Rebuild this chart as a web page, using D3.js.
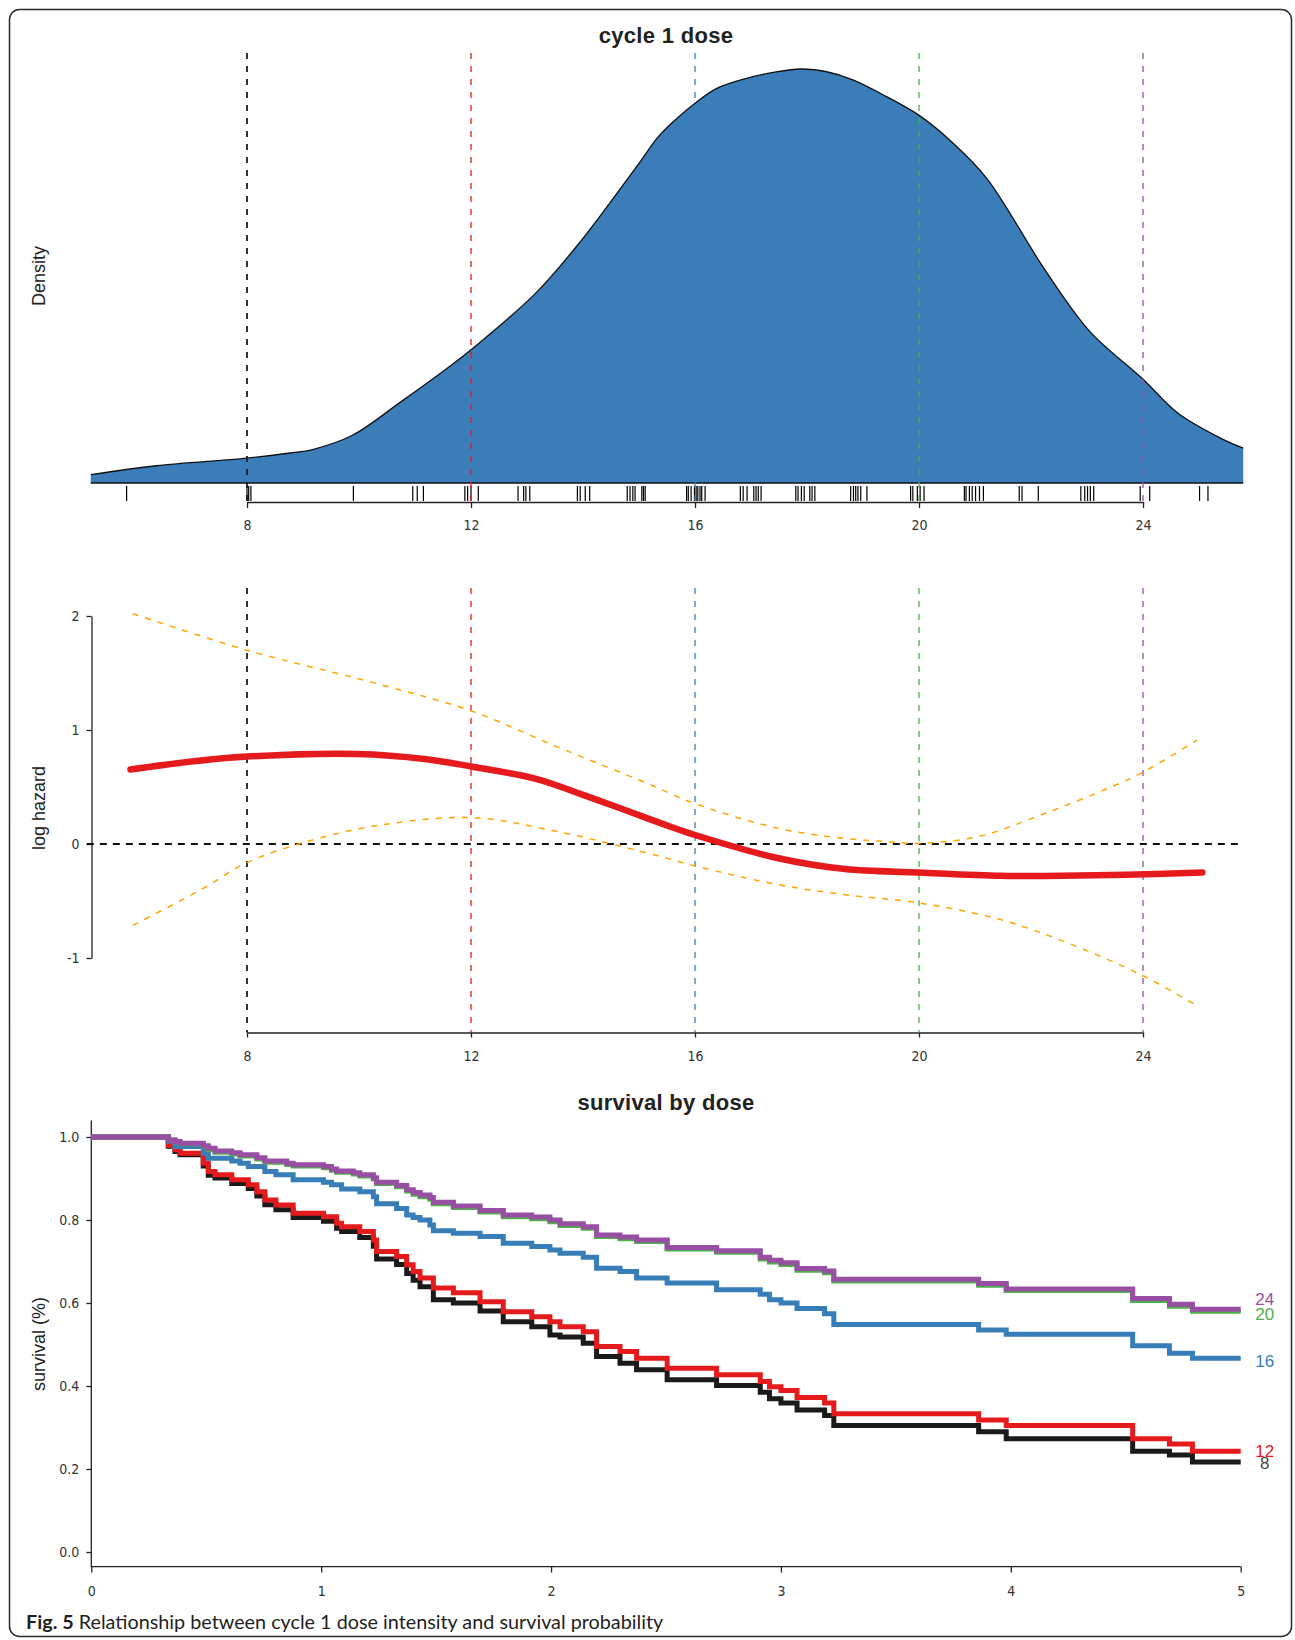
<!DOCTYPE html>
<html>
<head>
<meta charset="utf-8">
<script src="https://cdn.jsdelivr.net/npm/d3@7"></script>
<style>
  body { margin: 0; background: #fff; }
  .tick text { font-family: "Liberation Sans Narrow", "DejaVu Sans Condensed", sans-serif; font-size: 14px; fill: #333; }
  .tick line, .axis-line { stroke: #222; stroke-width: 1.3; }
  .ylab { font-family: "Liberation Sans", Arial, sans-serif; font-size: 18px; fill: #222; }
  .title { font-family: "Liberation Sans", Arial, sans-serif; font-size: 22px; font-weight: bold; fill: #222; letter-spacing: 0.3px; }
</style>
</head>
<body>
<svg id="fig" width="1295" height="1640"></svg>
<script>
const refDoses = [8, 12, 16, 20, 24];
const refColors = ["#1a1a1a", "#e41a1c", "#377eb8", "#4daf4a", "#984ea3"];
const doseTicks = [8, 12, 16, 20, 24];

const densityX = [5.21, 6.38, 8, 8.77, 9.17, 9.89, 10.77, 11.57, 12, 13.16, 13.96, 14.78, 15.02, 15.32,
  15.61, 16, 16.39, 16.92, 17.40, 17.89, 18.35, 18.83, 19.42, 19.99, 20.61, 21.21, 22.24, 23.04, 24,
  24.62, 25.41, 25.79];
const densityY = [0.0024, 0.0050, 0.0072, 0.0087, 0.0097, 0.0139, 0.0238, 0.0332, 0.0386, 0.0551, 0.0701,
  0.0878, 0.0931, 0.0999, 0.1047, 0.1101, 0.1144, 0.1173, 0.1190, 0.1200, 0.1192, 0.1168, 0.1120,
  0.1067, 0.0985, 0.0883, 0.0620, 0.0441, 0.0301, 0.0203, 0.0128, 0.0101];

const rugDose = [5.85, 8.0, 8.03, 8.07, 9.9, 10.96, 11.04, 11.15, 11.89, 11.94, 12.0, 12.13,
  12.84, 12.94, 12.98, 13.05, 13.9, 13.95, 14.04, 14.12, 14.79, 14.84, 14.89, 14.93, 15.05, 15.08, 15.11,
  15.85, 15.88, 15.93, 15.99, 16.02, 16.05, 16.09, 16.12, 16.18, 16.81, 16.86, 16.93, 17.05, 17.09, 17.13, 17.18,
  17.8, 17.84, 17.9, 17.95, 18.05, 18.09, 18.14, 18.78, 18.83, 18.87, 18.91, 18.96, 19.07,
  19.85, 19.89, 19.97, 20.02, 20.09, 20.81, 20.84, 20.9, 20.95, 21.01, 21.08, 21.15,
  21.79, 21.84, 22.13, 22.89, 22.96, 23.01, 23.06, 23.12, 23.95, 24.12, 25.01, 25.16];

const hazardX = [5.92, 6.94, 8, 9.97, 11.17, 12, 13.16, 13.95, 14.76, 15.46, 16, 17.49, 18.68,
  20, 21.45, 22.24, 23.68, 25.06];
const hazardY = [0.654, 0.72, 0.767, 0.79, 0.746, 0.68, 0.572, 0.44, 0.296, 0.17, 0.079, -0.125,
  -0.22, -0.25, -0.279, -0.28, -0.27, -0.25];
const upperX = [5.96, 8, 10.37, 12, 13.56, 15.16, 16, 17.49, 18.68, 19.45, 20, 21.05, 22.24, 23.43, 24, 24.96];
const upperY = [2.02, 1.70, 1.40, 1.168, 0.848, 0.529, 0.354, 0.137, 0.049, 0.02, 0.006, 0.064, 0.267,
  0.5, 0.63, 0.91];
const lowerX = [5.96, 7.18, 8, 9.17, 10.37, 12, 13.56, 15.16, 16, 17.49, 18.68, 20, 21.45, 22.64, 24, 24.96];
const lowerY = [-0.714, -0.40, -0.163, 0.035, 0.165, 0.232, 0.107, -0.081, -0.192, -0.357, -0.445,
  -0.517, -0.663, -0.865, -1.156, -1.418];

const survTime = [0, 0.335, 0.364, 0.386, 0.487, 0.509, 0.538, 0.611, 0.647, 0.683, 0.72, 0.755, 0.803,
  0.85, 0.878, 1.01, 1.045, 1.067, 1.089, 1.14, 1.168, 1.227, 1.241, 1.328, 1.372, 1.40, 1.43, 1.473,
  1.488, 1.575, 1.691, 1.792, 1.916, 1.995, 2.039, 2.14, 2.198, 2.30, 2.372, 2.505, 2.72, 2.91, 2.95,
  3.0, 3.07, 3.19, 3.23, 3.86, 3.98, 4.53, 4.69, 4.79, 5.0];
const surv8 = [1.0, 0.978, 0.965, 0.957, 0.930, 0.908, 0.901, 0.888, 0.888, 0.876, 0.858, 0.837, 0.825,
  0.825, 0.806, 0.797, 0.797, 0.780, 0.772, 0.772, 0.758, 0.737, 0.706, 0.693, 0.671, 0.655, 0.639,
  0.639, 0.608, 0.600, 0.581, 0.555, 0.543, 0.523, 0.518, 0.503, 0.471, 0.455, 0.439, 0.415, 0.401,
  0.385, 0.369, 0.359, 0.342, 0.329, 0.305, 0.290, 0.273, 0.243, 0.234, 0.217, 0.217];
const surv12 = [1.0, 0.980, 0.969, 0.961, 0.937, 0.917, 0.909, 0.897, 0.897, 0.885, 0.868, 0.848, 0.836,
  0.836, 0.816, 0.808, 0.808, 0.792, 0.784, 0.784, 0.772, 0.752, 0.724, 0.712, 0.692, 0.676, 0.660,
  0.660, 0.636, 0.625, 0.603, 0.579, 0.567, 0.555, 0.543, 0.531, 0.495, 0.483, 0.467, 0.443, 0.427,
  0.411, 0.398, 0.389, 0.372, 0.359, 0.333, 0.318, 0.305, 0.273, 0.260, 0.243, 0.243];
const surv16 = [1.0, 0.990, 0.977, 0.977, 0.961, 0.949, 0.949, 0.942, 0.937, 0.929, 0.929, 0.917, 0.909,
  0.909, 0.897, 0.891, 0.885, 0.885, 0.875, 0.875, 0.868, 0.856, 0.839, 0.828, 0.812, 0.806, 0.800,
  0.788, 0.774, 0.768, 0.760, 0.744, 0.736, 0.728, 0.720, 0.710, 0.684, 0.676, 0.660, 0.648, 0.632,
  0.621, 0.608, 0.600, 0.587, 0.574, 0.548, 0.535, 0.525, 0.497, 0.479, 0.467, 0.467];
const surv20 = [1.0, 0.993, 0.988, 0.984, 0.977, 0.970, 0.963, 0.959, 0.954, 0.954, 0.947, 0.939, 0.939,
  0.934, 0.930, 0.926, 0.920, 0.915, 0.915, 0.911, 0.906, 0.899, 0.888, 0.880, 0.870, 0.862, 0.856,
  0.850, 0.839, 0.830, 0.819, 0.808, 0.803, 0.796, 0.787, 0.780, 0.760, 0.755, 0.748, 0.730, 0.722,
  0.706, 0.699, 0.693, 0.679, 0.673, 0.653, 0.643, 0.630, 0.606, 0.592, 0.580, 0.580];
const surv24 = [1.0, 0.993, 0.989, 0.985, 0.979, 0.973, 0.966, 0.962, 0.957, 0.957, 0.950, 0.942, 0.942,
  0.937, 0.933, 0.929, 0.923, 0.918, 0.918, 0.914, 0.909, 0.902, 0.891, 0.883, 0.873, 0.866, 0.860,
  0.854, 0.843, 0.834, 0.823, 0.812, 0.807, 0.800, 0.791, 0.784, 0.764, 0.759, 0.752, 0.734, 0.726,
  0.710, 0.703, 0.697, 0.683, 0.677, 0.657, 0.647, 0.634, 0.611, 0.597, 0.585, 0.585];
const survSeries = [surv8, surv12, surv16, surv20, surv24];
const survTicksX = [0, 1, 2, 3, 4, 5];
const survTicksY = [0, 0.2, 0.4, 0.6, 0.8, 1.0];

const svg = d3.select("#fig");

// outer frame
svg.append("rect")
  .attr("x", 9.5).attr("y", 9.5)
  .attr("width", 1282).attr("height", 1627)
  .attr("rx", 10)
  .attr("fill", "none")
  .attr("stroke", "#2a2a2a")
  .attr("stroke-width", 1.5);

const x = d3.scaleLinear().domain([8, 24]).range([247, 1143]);
const xLo = 5.14, xHi = 25.74;

// ---- panel 1: density ----
const yDens = d3.scaleLinear().domain([0, 0.12]).range([483, 69]);
const dens = densityX.map((d, i) => [d, densityY[i]]);
const densCurve = d3.curveCatmullRom.alpha(0.5);

svg.append("path")
  .datum(dens)
  .attr("fill", "#3a7db8")
  .attr("d", d3.area().x(d => x(d[0])).y0(yDens(0)).y1(d => yDens(d[1])).curve(densCurve));
svg.append("path")
  .datum(dens)
  .attr("fill", "none")
  .attr("stroke", "#111")
  .attr("stroke-width", 1.3)
  .attr("d", d3.line().x(d => x(d[0])).y(d => yDens(d[1])).curve(densCurve));
svg.append("line")
  .attr("x1", x(densityX[0])).attr("x2", x(densityX[densityX.length - 1]))
  .attr("y1", yDens(0)).attr("y2", yDens(0))
  .attr("stroke", "#111").attr("stroke-width", 1.3);

svg.append("g").selectAll("line")
  .data(rugDose)
  .join("line")
    .attr("x1", d => x(d)).attr("x2", d => x(d))
    .attr("y1", 486).attr("y2", 501)
    .attr("stroke", "#000").attr("stroke-width", 1.2);

svg.append("g")
  .attr("transform", "translate(0,502)")
  .call(d3.axisBottom(x).tickValues(doseTicks).tickSize(6).tickSizeOuter(0).tickPadding(12))
  .call(g => g.select(".domain").attr("stroke", "#222").attr("stroke-width", 1.3));

const refLines = (y1, y2) => svg.append("g").selectAll("line")
  .data(refDoses)
  .join("line")
    .attr("x1", d => x(d)).attr("x2", d => x(d))
    .attr("y1", y1).attr("y2", y2)
    .attr("stroke", (d, i) => refColors[i])
    .attr("stroke-width", (d, i) => i === 0 ? 1.8 : 1.3)
    .attr("stroke-dasharray", "6,7");
refLines(53, 507);

svg.append("text").attr("class", "title")
  .attr("x", 666).attr("y", 43).attr("text-anchor", "middle")
  .text("cycle 1 dose");
svg.append("text").attr("class", "ylab")
  .attr("transform", "translate(39,276) rotate(-90)")
  .attr("text-anchor", "middle").attr("dominant-baseline", "central")
  .text("Density");

// ---- panel 2: log hazard ----
const yHaz = d3.scaleLinear().domain([-1, 2]).range([958, 616]);
const hazAxisY = 1032.5;

svg.append("g")
  .attr("transform", "translate(91.5,0)")
  .call(d3.axisLeft(yHaz).tickValues([-1, 0, 1, 2]).tickFormat(d => String(d)).tickSize(5).tickSizeOuter(0).tickPadding(7))
  .call(g => g.select(".domain").attr("stroke", "#222").attr("stroke-width", 1.3));
svg.append("g")
  .attr("transform", `translate(0,${hazAxisY})`)
  .call(d3.axisBottom(x).tickValues(doseTicks).tickSize(5).tickSizeOuter(0).tickPadding(14))
  .call(g => g.select(".domain").attr("stroke", "#222").attr("stroke-width", 1.3));

refLines(588, hazAxisY);

svg.append("line")
  .attr("x1", x(xLo)).attr("x2", x(xHi))
  .attr("y1", yHaz(0)).attr("y2", yHaz(0))
  .attr("stroke", "#111").attr("stroke-width", 1.8)
  .attr("stroke-dasharray", "7,6");

const hazLine = d3.line().x(d => x(d[0])).y(d => yHaz(d[1])).curve(d3.curveCatmullRom.alpha(0.5));
[[upperX, upperY], [lowerX, lowerY]].forEach(([xs, ys]) => {
  svg.append("path")
    .datum(xs.map((d, i) => [d, ys[i]]))
    .attr("fill", "none")
    .attr("stroke", "#ffa500")
    .attr("stroke-width", 1.5)
    .attr("stroke-dasharray", "6,7")
    .attr("d", hazLine);
});
svg.append("path")
  .datum(hazardX.map((d, i) => [d, hazardY[i]]))
  .attr("fill", "none")
  .attr("stroke", "#e41a1c")
  .attr("stroke-width", 6.5)
  .attr("stroke-linecap", "round")
  .attr("d", hazLine);

svg.append("text").attr("class", "ylab")
  .attr("transform", "translate(39,808) rotate(-90)")
  .attr("text-anchor", "middle").attr("dominant-baseline", "central")
  .text("log hazard");

// ---- panel 3: survival ----
const xS = d3.scaleLinear().domain([0, 5]).range([91.3, 1240.7]);
const yS = d3.scaleLinear().domain([0, 1]).range([1552, 1137]);

svg.append("path")
  .attr("class", "axis-line")
  .attr("fill", "none")
  .attr("d", `M${xS(0)},${yS(1.04)}V${yS(-0.035)}H${xS(5)}`);
svg.append("g")
  .attr("transform", `translate(${xS(0)},0)`)
  .call(d3.axisLeft(yS).tickValues(survTicksY).tickFormat(d3.format(".1f")).tickSize(5).tickPadding(7))
  .call(g => g.select(".domain").remove());
svg.append("g")
  .attr("transform", `translate(0,${yS(-0.035)})`)
  .call(d3.axisBottom(xS).tickValues(survTicksX).tickFormat(d3.format("d")).tickSize(6).tickPadding(14))
  .call(g => g.select(".domain").remove());

const stepLine = d3.line().x(d => xS(d[0])).y(d => yS(d[1])).curve(d3.curveStepAfter);
survSeries.forEach((s, i) => {
  svg.append("path")
    .datum(survTime.map((t, j) => [t, s[j]]))
    .attr("fill", "none")
    .attr("stroke", refColors[i])
    .attr("stroke-width", 5)
    .attr("d", stepLine);
});

const labelNudge = [2, 0, 3, 3, -10];
svg.append("g").selectAll("text")
  .data(refDoses)
  .join("text")
    .attr("x", xS(5) + 24)
    .attr("y", (d, i) => yS(survSeries[i][survSeries[i].length - 1]) + labelNudge[i])
    .attr("text-anchor", "middle")
    .attr("dominant-baseline", "central")
    .attr("font-family", "Liberation Sans, Arial, sans-serif")
    .attr("font-size", 17)
    .attr("fill", (d, i) => refColors[i] === "#1a1a1a" ? "#444" : refColors[i])
    .text(d => d);

svg.append("text").attr("class", "title")
  .attr("x", 666).attr("y", 1110).attr("text-anchor", "middle")
  .text("survival by dose");
svg.append("text").attr("class", "ylab")
  .attr("transform", "translate(39,1344) rotate(-90)")
  .attr("text-anchor", "middle").attr("dominant-baseline", "central")
  .text("survival (%)");

// caption
const cap = svg.append("text")
  .attr("x", 26).attr("y", 1629)
  .attr("font-family", "Lato, 'Open Sans', sans-serif")
  .attr("font-size", 19.8)
  .attr("fill", "#231f20");
cap.append("tspan").attr("font-weight", "bold").text("Fig. 5");
cap.append("tspan").text(" Relationship between cycle 1 dose intensity and survival probability");
</script>
</body>
</html>
